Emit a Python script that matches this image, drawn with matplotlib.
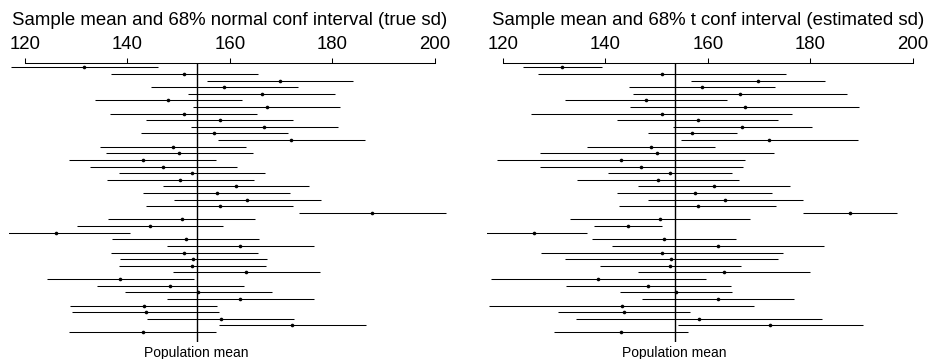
import matplotlib
matplotlib.use('Agg')
import matplotlib.pyplot as plt
import matplotlib.transforms as mtransforms
import numpy as np

plt.rcParams['font.family'] = ['Liberation Sans', 'DejaVu Sans']

# sample means (same samples in both panels), top row first
means = [131.6, 151.1, 169.8, 158.9, 166.2, 148.0, 167.2, 151.0, 158.0, 166.7,
         157.0, 172.0, 148.9, 150.1, 143.0, 147.0, 152.6, 150.3, 161.2, 157.4,
         163.4, 158.0, 187.8, 150.6, 144.4, 126.1, 151.4, 162.0, 151.1, 152.9,
         152.7, 163.2, 138.6, 148.4, 153.8, 162.0, 143.2, 143.6, 158.2, 172.2,
         143.0]

# half widths: fixed for the known-sd interval, per sample for the t interval
z_halfwidth = 14.34
t_halfwidths = [7.7, 24.2, 13.1, 14.3, 20.9, 15.8, 22.4, 25.5, 15.7, 13.6,
                8.7, 17.3, 12.4, 22.8, 24.2, 19.8, 12.1, 15.8, 14.8, 15.2,
                15.1, 15.4, 9.2, 17.6, 6.6, 10.4, 14.1, 20.7, 23.6, 20.7,
                13.7, 16.8, 21.0, 16.1, 11.0, 14.9, 25.9, 12.9, 24.0, 18.1,
                13.1]

pop_mean = 153.5
xticks = [120, 140, 160, 180, 200]

titles = ["Sample mean and 68% normal conf interval (true sd)",
          "Sample mean and 68% t conf interval (estimated sd)"]

W, H = 931, 359
fig = plt.figure(figsize=(W / 100, H / 100), dpi=100)

def draw_panel(left_px, halfwidths, title):
    top_px, bot_px = 63.3, 342.3
    width_px = 442.5
    ax = fig.add_axes([left_px / W, 1 - bot_px / H, width_px / W, (bot_px - top_px) / H])
    m = np.array(means)
    hw = np.array(halfwidths)
    rows = np.arange(1, len(m) + 1)
    ax.hlines(rows, m - hw, m + hw, color='black', lw=0.75)
    ax.plot(m, rows, 'o', color='black', ms=2.6, mew=0)
    ax.axvline(pop_mean, color='black', lw=1.0)
    ax.set_xlim(116.8, 203.2)
    ax.set_ylim(42.56, 0.395)

    # only the top axis, running from the first to the last tick
    for s in ['left', 'right', 'bottom']:
        ax.spines[s].set_visible(False)
    ax.spines['top'].set_bounds(120, 200)
    ax.spines['top'].set_linewidth(0.75)
    ax.set_yticks([])
    ax.xaxis.tick_top()
    ax.set_xticks(xticks)
    ax.set_xticklabels([str(t) for t in xticks])
    ax.tick_params(axis='x', direction='out', length=3.6, width=0.75,
                   labelsize=13.4, pad=4.0)

    cx = (left_px + width_px / 2) / W
    fig.text(cx, 1 - 25 / H, title, ha='center', va='baseline', fontsize=13.4)

    trans = mtransforms.blended_transform_factory(ax.transData, fig.transFigure)
    ax.text(pop_mean, 1 - 356.5 / H, "Population mean", ha='center', va='baseline',
            fontsize=10, transform=trans, clip_on=False)
    return ax

draw_panel(8.6, [z_halfwidth] * len(means), titles[0])
draw_panel(486.6, t_halfwidths, titles[1])

fig.savefig('out.png', dpi=100)
